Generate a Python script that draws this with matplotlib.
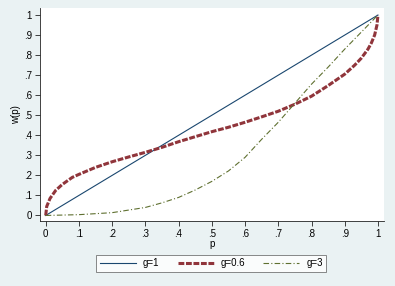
import matplotlib.pyplot as plt
import numpy as np

# valeurs
p_g1 = [0, 1]
w_g1 = [0, 1]

p_g06 = [0, 0.003, 0.013, 0.03, 0.05, 0.08, 0.1, 0.15, 0.2, 0.25, 0.3, 0.35, 0.4, 0.45, 0.5,
         0.55, 0.6, 0.65, 0.7, 0.75, 0.8, 0.85, 0.9, 0.93, 0.95, 0.97, 0.98, 0.99, 0.997, 1.0]
w_g06 = [0, 0.045, 0.085, 0.125, 0.155, 0.19, 0.205, 0.24, 0.268, 0.292, 0.315, 0.34, 0.368, 0.393, 0.418,
         0.44, 0.465, 0.492, 0.52, 0.555, 0.595, 0.648, 0.705, 0.75, 0.785, 0.83, 0.86, 0.9, 0.95, 1.0]

p_g3 = [0, 0.1, 0.2, 0.3, 0.35, 0.4, 0.45, 0.5, 0.55, 0.6, 0.65, 0.7, 0.75, 0.8, 0.85, 0.9, 0.95, 1.0]
w_g3 = [0, 0.004, 0.014, 0.04, 0.063, 0.09, 0.127, 0.17, 0.222, 0.29, 0.38, 0.465, 0.56, 0.655, 0.74, 0.83, 0.915, 1.0]

ticks = np.arange(0, 11) / 10
tick_labels = ["0", ".1", ".2", ".3", ".4", ".5", ".6", ".7", ".8", ".9", "1"]

plt.rcParams['font.family'] = ['Liberation Sans', 'DejaVu Sans']

fig = plt.figure(figsize=(3.95, 2.86), dpi=100)
fig.patch.set_facecolor('#eaf2f3')
ax = fig.add_axes([0.100, 0.227, 0.872, 0.745])
ax.set_facecolor('white')

ax.plot(p_g1, w_g1, color='#1a476f', lw=0.8, label='g=1')
ax.plot(p_g06, w_g06, color='#90353b', lw=2.2, dashes=(1.9, 0.55), label='g=0.6')
ax.plot(p_g3, w_g3, color='#5f7030', lw=0.8, dashes=(5, 2, 1, 2), label='g=3')

ax.set_xlim(-0.0187, 1.018)
ax.set_ylim(-0.028, 1.035)
ax.set_xticks(ticks)
ax.set_xticklabels(tick_labels)
ax.set_yticks(ticks)
ax.set_yticklabels(tick_labels)
ax.tick_params(labelsize=7, length=3.5, width=0.6, color='#222222', pad=2)
for s in ['top', 'right']:
    ax.spines[s].set_visible(False)
for s in ['left', 'bottom']:
    ax.spines[s].set_linewidth(0.6)
    ax.spines[s].set_color('#222222')

ax.set_xlabel('p', fontsize=7, labelpad=0)
ax.set_ylabel('w(p)', fontsize=7, labelpad=2)

leg = fig.legend(loc='center', bbox_to_anchor=(0.535, 0.080), ncol=3, fontsize=7,
                 frameon=True, fancybox=False, edgecolor='#555555', handlelength=3.7,
                 columnspacing=1.9, handletextpad=0.7, borderpad=0.35)
leg.get_frame().set_linewidth(0.6)

fig.savefig('out.png', dpi=100, facecolor=fig.get_facecolor())
